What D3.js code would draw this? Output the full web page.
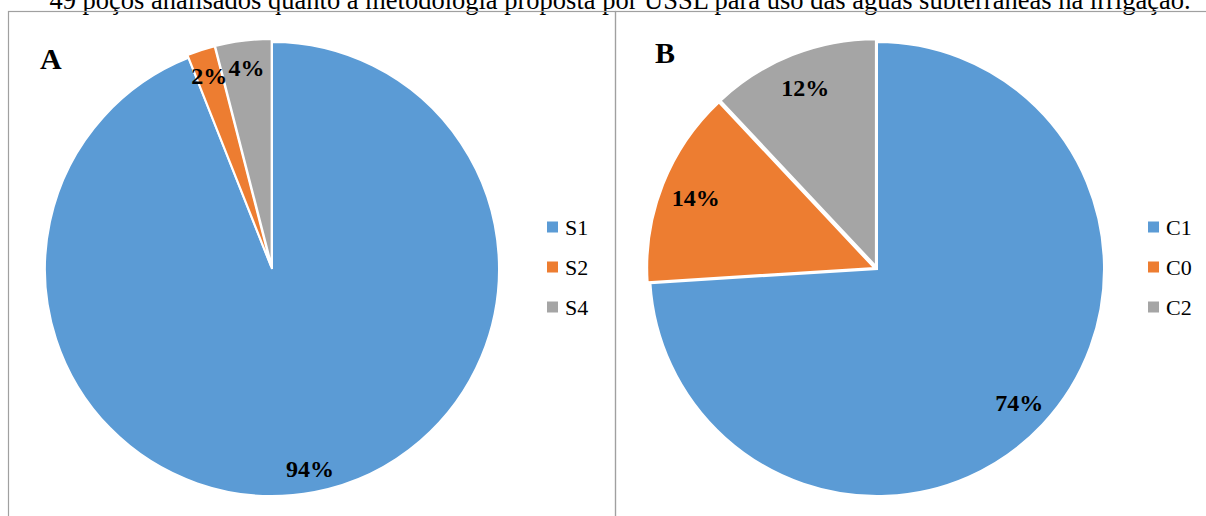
<!DOCTYPE html>
<html>
<head>
<meta charset="utf-8">
<script src="https://cdn.jsdelivr.net/npm/d3@7"></script>
<style>
  html, body { margin: 0; padding: 0; background: #fff; }
  svg { display: block; }
</style>
</head>
<body>
<svg id="chart" width="1206" height="516"></svg>
<script>
// Caption (upper line partly cut off by the page top)
const caption = "49 poços analisados quanto à metodologia proposta por USSL para uso das águas subterrâneas na irrigação.";

// Panel A: sodium hazard classes
const labelsA = ["S1", "S2", "S4"];
const valuesA = [94, 2, 4];

// Panel B: salinity hazard classes
const labelsB = ["C1", "C0", "C2"];
const valuesB = [74, 14, 12];

const colors = ["#5B9BD5", "#ED7D31", "#A5A5A5"];

const svg = d3.select("#chart");
const serif = "'Liberation Serif', 'Times New Roman', serif";

svg.append("text")
  .attr("x", 620).attr("y", 9)
  .attr("text-anchor", "middle")
  .attr("font-family", serif)
  .attr("font-size", 26.5)
  .attr("fill", "#000")
  .text(caption);

// Panel frames
svg.append("rect").attr("x", 8.5).attr("y", 11.5).attr("width", 607).attr("height", 520)
  .attr("fill", "none").attr("stroke", "#a0a0a0").attr("stroke-width", 1.2);
svg.append("rect").attr("x", 615.5).attr("y", 11.5).attr("width", 620).attr("height", 520)
  .attr("fill", "none").attr("stroke", "#a0a0a0").attr("stroke-width", 1.2);

function drawPie(opts) {
  const { cx, cy, radius, labels, values, letter, letterX, letterY, legendX, labelR } = opts;
  const g = svg.append("g").attr("transform", `translate(${cx},${cy})`);

  const pie = d3.pie().sort(null).value(d => d)(values);
  const arc = d3.arc().innerRadius(0).outerRadius(radius);
  const total = d3.sum(values);

  g.selectAll("path.slice")
    .data(pie)
    .join("path")
    .attr("class", "slice")
    .attr("d", arc)
    .attr("fill", (d, i) => colors[i])
    .attr("stroke", "#fff")
    .attr("stroke-width", 2)
    .attr("transform", (d, i) => {
      // the smaller classes sit slightly pulled out of the pie
      if (i === 0) return null;
      const a = (d.startAngle + d.endAngle) / 2;
      const off = 3;
      return `translate(${off * Math.sin(a)},${-off * Math.cos(a)})`;
    });

  g.selectAll("text.pct")
    .data(pie)
    .join("text")
    .attr("class", "pct")
    .attr("x", d => labelR * Math.sin((d.startAngle + d.endAngle) / 2))
    .attr("y", d => -labelR * Math.cos((d.startAngle + d.endAngle) / 2))
    .attr("dy", "0.35em")
    .attr("text-anchor", "middle")
    .attr("font-family", serif)
    .attr("font-weight", "bold")
    .attr("font-size", 24)
    .attr("fill", "#000")
    .text(d => Math.round(d.data / total * 100) + "%");

  svg.append("text")
    .attr("x", letterX).attr("y", letterY)
    .attr("font-family", serif)
    .attr("font-weight", "bold")
    .attr("font-size", 30)
    .attr("fill", "#000")
    .text(letter);

  const y = d3.scalePoint().domain(labels).range([227, 307]);
  const leg = svg.append("g");
  leg.selectAll("rect")
    .data(labels)
    .join("rect")
    .attr("x", legendX)
    .attr("y", d => y(d) - 5.5)
    .attr("width", 11).attr("height", 11)
    .attr("fill", (d, i) => colors[i]);
  leg.selectAll("text")
    .data(labels)
    .join("text")
    .attr("x", legendX + 18)
    .attr("y", d => y(d) + 7.5)
    .attr("font-family", serif)
    .attr("font-size", 22)
    .attr("fill", "#000")
    .text(d => d);
}

drawPie({ cx: 272, cy: 269, radius: 227, labels: labelsA, values: valuesA,
  letter: "A", letterX: 40, letterY: 69, legendX: 547, labelR: 203 });
drawPie({ cx: 877, cy: 269, radius: 227, labels: labelsB, values: valuesB,
  letter: "B", letterX: 655, letterY: 63, legendX: 1148, labelR: 195 });
</script>
</body>
</html>
